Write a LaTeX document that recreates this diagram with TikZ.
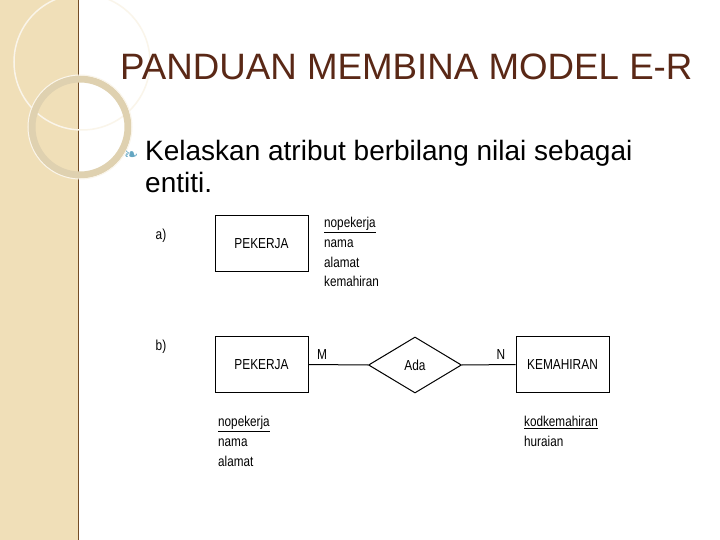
\documentclass[tikz,border=0pt]{standalone}
\usepackage{fontspec}
\setmainfont{Liberation Sans}
\newfontfamily\narrowf[FakeStretch=0.82]{Liberation Sans}
\newfontfamily\dejavu{DejaVu Sans}
\usetikzlibrary{shapes.geometric}
\definecolor{beige}{HTML}{F0DFB8}
\definecolor{titlec}{HTML}{5A2816}
\tikzset{
  ent/.style={draw,line width=1pt,minimum width=93pt,minimum height=56pt,font=\narrowf\fontsize{14.5}{16}\selectfont},
  rel/.style={draw,line width=1pt,diamond,minimum width=93pt,minimum height=56pt,aspect=1.65,inner sep=0pt,font=\narrowf\fontsize{14.5}{16}\selectfont},
  attr/.style={anchor=north west,align=left,inner sep=0pt,font=\narrowf\fontsize{14.3}{19.8}\selectfont},
  lbl/.style={inner sep=0pt,font=\narrowf\fontsize{14.5}{16}\selectfont},
  conn/.style={line width=1pt}
}
\begin{document}
\begin{tikzpicture}[x=1pt,y=-1pt]
\useasboundingbox (0,0) rectangle (720,540);
\fill[white] (0,0) rectangle (720,540);
\fill[beige] (0,0) rectangle (78,540);
\draw[line width=1.2pt,color=brown!60!black] (78.5,0) -- (78.5,540);
\draw[line width=1.5pt,color=white!70!beige] (82,62) circle (68);
\draw[line width=7pt,color=beige!85!gray] (80,127) circle (48);
\draw[line width=1pt,color=white!70!beige] (80,127) circle (52);
\node[anchor=base west,inner sep=0pt,text=titlec,font=\fontsize{36.7}{40}\selectfont] (title) at (120,80) {PANDUAN MEMBINA MODEL E-R};
\node[anchor=base west,inner sep=0pt,text=cyan!50!gray,font=\dejavu\fontsize{17}{18}\selectfont] (bul) at (124,161) {\char"2767};
\node[anchor=base west,inner sep=0pt,font=\fontsize{28}{32}\selectfont] (txt) at (145,161) {Kelaskan atribut berbilang nilai sebagai};
\node[anchor=base west,inner sep=0pt,font=\fontsize{28}{32}\selectfont] (txt2) at (145,193) {entiti.};
\node[lbl] (la) at (161,236) {a)};
\node[ent] (pa) at (261.5,243.5) {PEKERJA};
\node[attr] (aa) at (324,217) {\underline{nopekerja}\\nama\\alamat\\kemahiran};
\node[lbl] (lb) at (161,347) {b)};
\node[ent] (pb) at (261.5,364.5) {PEKERJA};
\node[rel] (ada) at (415,365) {Ada};
\node[ent] (kem) at (562.5,364.5) {KEMAHIRAN};
\draw[conn] (pb.east) -- (ada.west);
\draw[conn] (ada.east) -- (kem.west);
\node[lbl] (m) at (322,355) {M};
\node[lbl] (n) at (501,355) {N};
\node[attr] (ab) at (218,416) {\underline{nopekerja}\\nama\\alamat};
\node[attr] (ak) at (524,416) {\underline{kodkemahiran}\\huraian};
\end{tikzpicture}
\end{document}
